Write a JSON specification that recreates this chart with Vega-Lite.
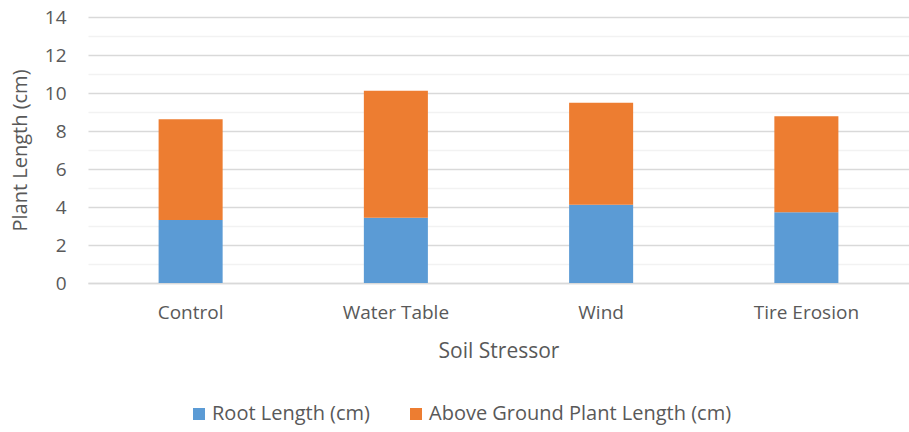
{
  "$schema": "https://vega.github.io/schema/vega-lite/v6.json",
  "width": 821,
  "height": 266,
  "autosize": {"type": "none"},
  "padding": {"left": 88, "top": 17, "right": 0, "bottom": 149},
  "background": "white",
  "config": {
    "view": {"stroke": null},
    "font": "Open Sans"
  },
  "data": {
    "values": [
      {"stressor": "Control", "series": "Root Length (cm)", "length": 3.32},
      {"stressor": "Control", "series": "Above Ground Plant Length (cm)", "length": 5.30},
      {"stressor": "Water Table", "series": "Root Length (cm)", "length": 3.44},
      {"stressor": "Water Table", "series": "Above Ground Plant Length (cm)", "length": 6.68},
      {"stressor": "Wind", "series": "Root Length (cm)", "length": 4.12},
      {"stressor": "Wind", "series": "Above Ground Plant Length (cm)", "length": 5.37},
      {"stressor": "Tire Erosion", "series": "Root Length (cm)", "length": 3.72},
      {"stressor": "Tire Erosion", "series": "Above Ground Plant Length (cm)", "length": 5.05}
    ]
  },
  "mark": {"type": "bar"},
  "encoding": {
    "x": {
      "field": "stressor",
      "type": "nominal",
      "sort": ["Control", "Water Table", "Wind", "Tire Erosion"],
      "scale": {"paddingInner": 0.688, "paddingOuter": 0.344},
      "axis": {
        "title": "Soil Stressor",
        "labelAngle": 0,
        "labelFont": "Open Sans",
        "labelFontSize": 19,
        "labelColor": "#595959",
        "labelPadding": 20,
        "ticks": false,
        "domain": true,
        "domainColor": "#d9d9d9",
        "domainWidth": 1.3,
        "titleFont": "Open Sans",
        "titleFontSize": 21,
        "titleFontWeight": "normal",
        "titleColor": "#595959",
        "titlePadding": 18
      }
    },
    "y": {
      "field": "length",
      "type": "quantitative",
      "stack": "zero",
      "scale": {"domain": [0, 14], "nice": false},
      "axis": {
        "title": "Plant Length (cm)",
        "values": [0, 1, 2, 3, 4, 5, 6, 7, 8, 9, 10, 11, 12, 13, 14],
        "labelExpr": "datum.value % 2 === 0 ? datum.label : ''",
        "labelFont": "Open Sans",
        "labelFontSize": 19,
        "labelColor": "#595959",
        "labelPadding": 22,
        "ticks": false,
        "domain": false,
        "grid": true,
        "gridColor": {"condition": {"test": "datum.value % 2 === 0", "value": "#d9d9d9"}, "value": "#f2f2f2"},
        "gridWidth": 1.3,
        "titleFont": "Open Sans",
        "titleFontSize": 20,
        "titleFontWeight": "normal",
        "titleColor": "#595959",
        "titlePadding": 14
      }
    },
    "color": {
      "field": "series",
      "type": "nominal",
      "scale": {
        "domain": ["Root Length (cm)", "Above Ground Plant Length (cm)"],
        "range": ["#5b9bd5", "#ed7d31"]
      },
      "legend": {
        "title": null,
        "orient": "none",
        "direction": "horizontal",
        "legendX": 101,
        "legendY": 387,
        "symbolType": "square",
        "symbolSize": 144,
        "symbolStrokeWidth": 0,
        "labelFont": "Open Sans",
        "labelFontSize": 20,
        "labelColor": "#595959",
        "labelLimit": 0,
        "columnPadding": 35,
        "labelOffset": 3
      }
    },
    "order": {"field": "series", "sort": "descending"}
  }
}
